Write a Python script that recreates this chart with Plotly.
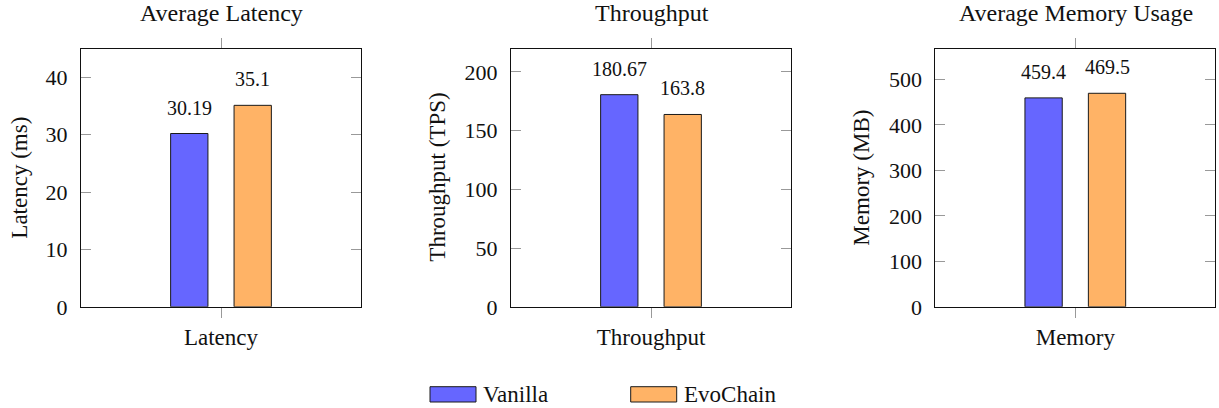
import plotly.graph_objects as go

# ---- data ----
series_names = ["Vanilla", "EvoChain"]
panel_titles = ["Average Latency", "Throughput", "Average Memory Usage"]
categories = ["Latency", "Throughput", "Memory"]
y_titles = ["Latency (ms)", "Throughput (TPS)", "Memory (MB)"]
vanilla_values = [30.19, 180.67, 459.4]
evochain_values = [35.1, 163.8, 469.5]
y_max = [45, 220, 568]
y_dtick = [10, 50, 100]

# ---- style / layout ----
W, H = 1219, 408
FONT = "Liberation Serif, Times New Roman, serif"
colors = ["#6666FF", "#FFB366"]
box_left = [81, 511, 935.3]
box_w = 280
box_top, box_bottom = 48.5, 306.8
bargap, bargroupgap = 0.094, 0.412
x_range = [-1, 1]
title_cx = [221, 651.5, 1075.5]
ytitle_cx = [20, 438, 862]


def px(x):
    return x / W


def py(y):
    return 1 - y / H


fig = go.Figure()
series_values = [vanilla_values, evochain_values]
annotations = []
layout = {}

bar_offset_px = (1 - bargap) / 4 * box_w / (x_range[1] - x_range[0])

for i in range(3):
    ax = "" if i == 0 else str(i + 1)
    for s, (name, vals) in enumerate(zip(series_names, series_values)):
        fig.add_trace(go.Bar(
            x=[categories[i]], y=[vals[i]], name=name,
            xaxis="x" + ax, yaxis="y" + ax,
            marker=dict(color=colors[s], line=dict(color="#1a1a1a", width=1)),
            showlegend=False, hoverinfo="x+y",
        ))
        annotations.append(dict(
            x=categories[i], y=vals[i], xref="x" + ax, yref="y" + ax,
            text=str(vals[i]), showarrow=False,
            xshift=(-1 if s == 0 else 1) * bar_offset_px, yshift=26,
            yanchor="middle", xanchor="center",
            font=dict(family=FONT, size=20, color="#111"),
        ))
    layout["xaxis" + ax] = dict(
        domain=[px(box_left[i]), px(box_left[i] + box_w)],
        anchor="y" + ax, type="category", range=x_range,
        showline=True, linecolor="#111", linewidth=1, mirror="ticks",
        ticks="outside", ticklen=10, tickcolor="#999", tickwidth=1,
        tickfont=dict(family=FONT, size=23, color="#111"),
        ticklabelstandoff=0, automargin=False,
        showgrid=False, zeroline=False, fixedrange=True,
    )
    layout["yaxis" + ax] = dict(
        domain=[py(box_bottom), py(box_top)],
        anchor="x" + ax, range=[0, y_max[i]], dtick=y_dtick[i], tick0=0,
        showline=True, linecolor="#111", linewidth=1, mirror="ticks",
        ticks="inside", ticklen=10, tickcolor="#999", tickwidth=1,
        tickfont=dict(family=FONT, size=22, color="#111"),
        ticklabelstandoff=8, automargin=False,
        showgrid=False, zeroline=False, fixedrange=True,
    )
    annotations.append(dict(
        x=px(title_cx[i]), y=py(13), xref="paper", yref="paper",
        text=panel_titles[i], showarrow=False, xanchor="center", yanchor="middle",
        font=dict(family=FONT, size=24, color="#111"),
    ))
    annotations.append(dict(
        x=px(ytitle_cx[i]), y=py((box_top + box_bottom) / 2),
        xref="paper", yref="paper", text=y_titles[i], textangle=-90,
        showarrow=False, xanchor="center", yanchor="middle",
        font=dict(family=FONT, size=23, color="#111"),
    ))

# ---- custom legend ----
legend_swatch_x = [430, 630.7]
swatch_w, swatch_top, swatch_bot = 46, 386.7, 402
shapes = []
for s, name in enumerate(series_names):
    x0 = legend_swatch_x[s]
    shapes.append(dict(
        type="rect", xref="paper", yref="paper",
        x0=px(x0), x1=px(x0 + swatch_w),
        y0=py(swatch_bot), y1=py(swatch_top),
        fillcolor=colors[s], line=dict(color="#1a1a1a", width=1),
    ))
    annotations.append(dict(
        x=px(x0 + swatch_w + 5), y=py((swatch_top + swatch_bot) / 2),
        xref="paper", yref="paper", text=name, showarrow=False,
        xanchor="left", yanchor="middle",
        font=dict(family=FONT, size=23, color="#111"),
    ))

fig.update_layout(
    width=W, height=H,
    margin=dict(l=0, r=0, t=0, b=0, pad=0, autoexpand=False),
    paper_bgcolor="white", plot_bgcolor="white",
    barmode="group", bargap=bargap, bargroupgap=bargroupgap,
    annotations=annotations, shapes=shapes,
    showlegend=False,
    **layout,
)

# remove the default 8px page margin so the figure fills the window exactly
fig.write_html(
    "out.html",
    config={"displayModeBar": False},
    post_script="document.body.style.margin='0';document.body.style.overflow='hidden';",
)
